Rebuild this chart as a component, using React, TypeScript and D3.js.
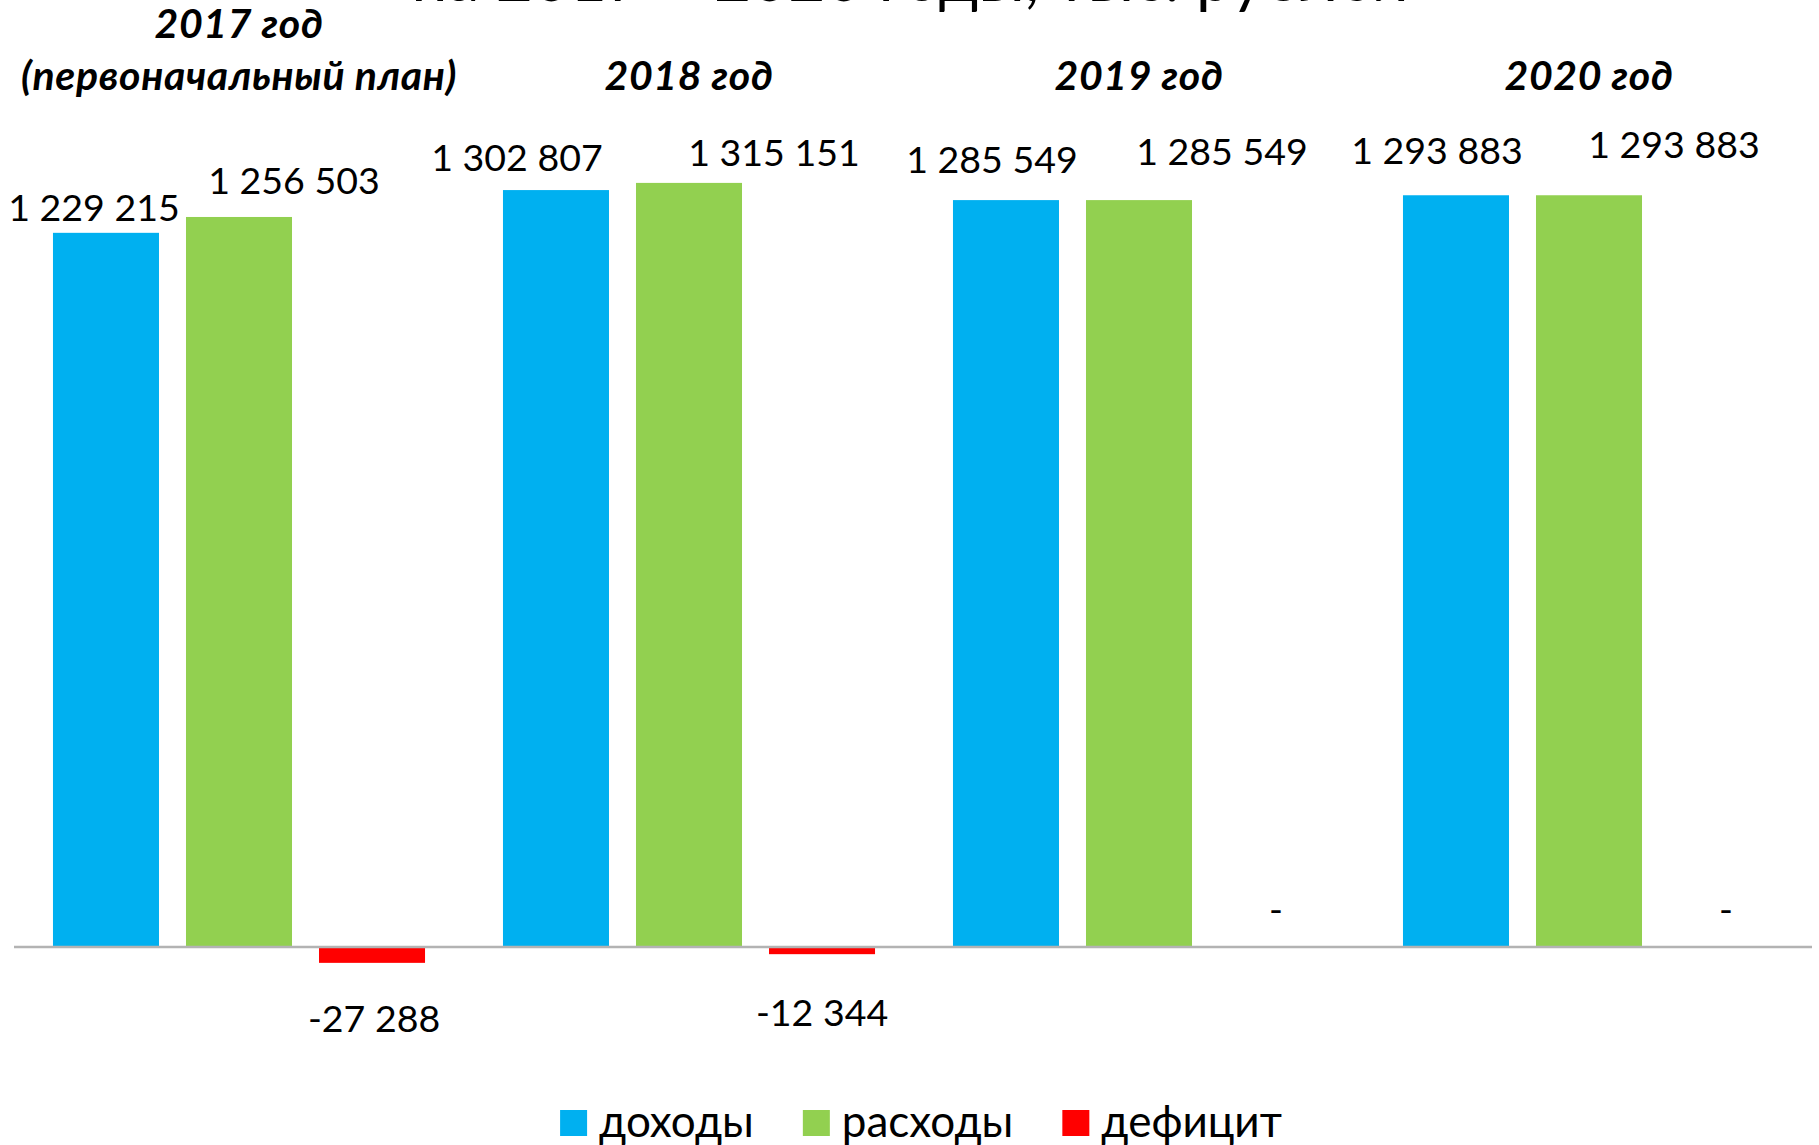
import React, { useEffect, useRef } from 'react';
import * as d3 from 'd3';

// values, тыс. рублей
const years = ['2017 год\n(первоначальный план)', '2018 год', '2019 год', '2020 год'];
const seriesNames = ['доходы', 'расходы', 'дефицит'];
const dohody = [1229215, 1302807, 1285549, 1293883];
const rashody = [1256503, 1315151, 1285549, 1293883];
const deficit = [-27288, -12344, 0, 0];
const titleLine = 'на 2017 – 2020 годы, тыс. рублей';

const colors = ['#00B0F0', '#92D050', '#FF0000'];

// labels were dragged by hand in the original, keep the nudges
const labelNudge = [
    [[-12, -12], [-39, -19], [-14, -27], [-19, -31]],
    [[55, -23], [85, -17], [83, -35], [85, -37]],
    [[2, 69], [0, 72], [4, -24], [4, -24]],
];

const App = () => {
    const svgRef = useRef(null);

    useEffect(() => {
        const svg = d3.select(svgRef.current);
        svg.selectAll('*').remove();

        const width = 1819;
        const height = 1145;
        const font = 'Lato, "Open Sans", sans-serif';

        const values = [dohody, rashody, deficit];
        const rows = years.map((year, i) => ({
            year,
            vals: seriesNames.map((name, s) => ({ name, s, v: values[s][i] })),
        }));

        const x0 = d3.scaleBand(years, [14, 1814]);
        const x1 = d3.scaleBand(seriesNames, [0, x0.bandwidth()])
            .paddingInner(0.203)
            .paddingOuter(0.293);
        const y = d3.scaleLinear([-200000, 1400000], [1063.2, 133.6]);

        const fmt = d3.formatLocale({
            decimal: ',', thousands: ' ', grouping: [3], currency: ['', ''], minus: '-',
        }).format(',d');

        svg.attr('width', width).attr('height', height)
            .attr('viewBox', [0, 0, width, height]);

        // title, mostly cut off by the top edge (as in the source picture)
        svg.append('text')
            .attr('x', 910).attr('y', 1)
            .attr('text-anchor', 'middle')
            .attr('font-family', font)
            .attr('font-size', 64)
            .attr('fill', '#000')
            .text(titleLine);

        const groups = svg.append('g')
            .selectAll('g')
            .data(rows)
            .join('g')
            .attr('transform', d => `translate(${x0(d.year)},0)`);

        groups.selectAll('rect')
            .data(d => d.vals)
            .join('rect')
            .attr('x', d => x1(d.name))
            .attr('width', x1.bandwidth())
            .attr('y', d => y(Math.max(0, d.v)))
            .attr('height', d => Math.abs(y(d.v) - y(0)))
            .attr('fill', d => colors[d.s]);

        // baseline
        svg.append('line')
            .attr('x1', 14).attr('x2', 1812)
            .attr('y1', y(0)).attr('y2', y(0))
            .attr('stroke', '#B3B3B3')
            .attr('stroke-width', 2.5);

        // data labels
        groups.each(function (row, i) {
            d3.select(this).selectAll('text.lbl')
                .data(row.vals)
                .join('text')
                .attr('class', 'lbl')
                .attr('x', d => x1(d.name) + x1.bandwidth() / 2 + labelNudge[d.s][i][0])
                .attr('y', d => (d.v < 0 ? y(d.v) : y(Math.max(0, d.v))) + labelNudge[d.s][i][1])
                .attr('text-anchor', 'middle')
                .attr('font-family', font)
                .attr('font-size', 37.5)
                .attr('fill', '#000')
                .text(d => (d.v === 0 ? '-' : fmt(d.v)));
        });

        // category names on top
        groups.each(function (row) {
            const lines = row.year.split('\n');
            d3.select(this).append('text')
                .attr('text-anchor', 'middle')
                .attr('font-family', font)
                .attr('font-size', 41)
                .attr('font-weight', 'bold')
                .attr('font-style', 'italic')
                .attr('letter-spacing', 0.6)
                .attr('fill', '#000')
                .selectAll('tspan')
                .data(lines)
                .join('tspan')
                .attr('x', x0.bandwidth() / 2)
                .attr('y', (d, k) => 90 - (lines.length - 1 - k) * 52)
                .text(d => d);
        });

        // legend
        const legend = svg.append('g');
        let cx = 0;
        seriesNames.forEach((name, s) => {
            const item = legend.append('g').attr('transform', `translate(${cx},0)`);
            item.append('rect')
                .attr('x', 0).attr('y', 1110)
                .attr('width', 27).attr('height', 26)
                .attr('fill', colors[s]);
            const t = item.append('text')
                .attr('x', 39).attr('y', 1137)
                .attr('font-family', font)
                .attr('font-size', 44)
                .attr('fill', '#000')
                .text(name);
            cx += 39 + t.node().getComputedTextLength() + 49;
        });
        const lw = cx - 49;
        legend.attr('transform', `translate(${921 - lw / 2},0)`);
    }, []);

    return (
        <svg
            ref={svgRef}
            style={{ position: 'absolute', left: 0, top: 0, display: 'block', background: '#fff' }}
        />
    );
};

export default App;
